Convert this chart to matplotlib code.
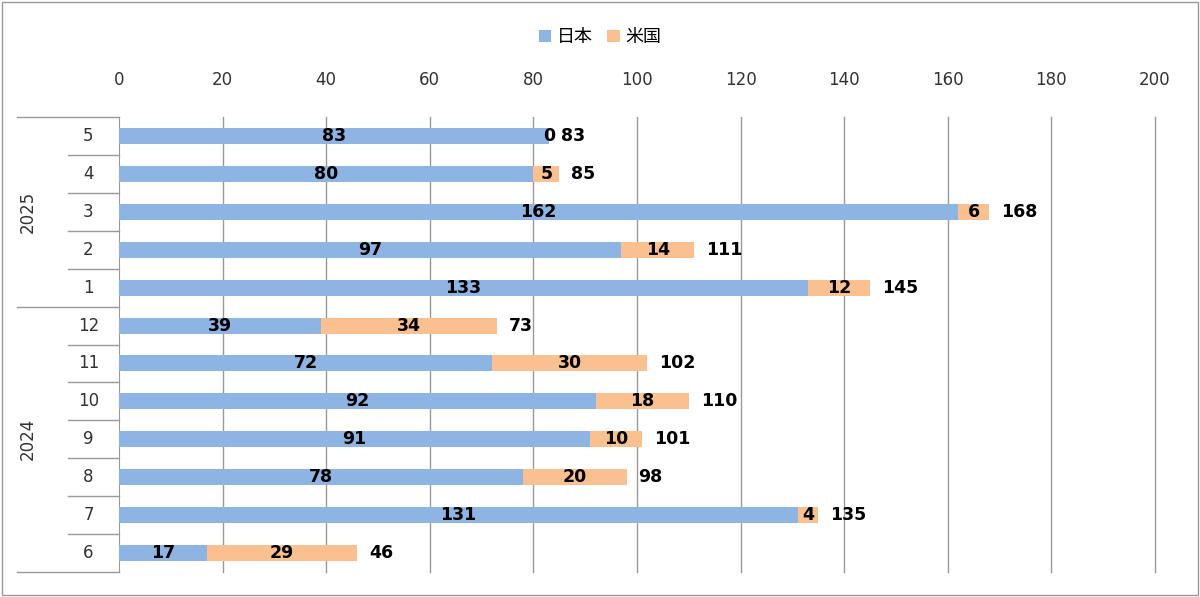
import matplotlib
matplotlib.use("Agg")
import matplotlib.pyplot as plt
from matplotlib.lines import Line2D

months = ["5", "4", "3", "2", "1", "12", "11", "10", "9", "8", "7", "6"]
years = ["2025", "2024"]
year_counts = [5, 7]
japan = [83, 80, 162, 97, 133, 39, 72, 92, 91, 78, 131, 17]
usa = [0, 5, 6, 14, 12, 34, 30, 18, 10, 20, 4, 29]
series_names = ["日本", "米国"]
xticks = list(range(0, 201, 20))

W, H = 1200, 597
fig = plt.figure(figsize=(12, 5.97), dpi=100)
fx = lambda px: px / W
fy = lambda py: 1 - py / H
ax = fig.add_axes([fx(119), fy(572), fx(1155) - fx(119), fy(117) - fy(572)])

blue, orange = "#8EB4E3", "#FAC090"
n = len(months)
ys = list(range(n))
ax.barh(ys, japan, height=0.42, color=blue, label=series_names[0], zorder=3)
ax.barh(ys, usa, left=japan, height=0.42, color=orange, label=series_names[1], zorder=3)
fnt = dict(fontsize=12.5, fontweight="bold", va="center", color="black", zorder=4)
for y, j, u in zip(ys, japan, usa):
    ax.text(j / 2, y, str(j), ha="center", **fnt)
    ax.text(j + u / 2, y, str(u), ha="center", **fnt)
    ax.text(j + u + 2.3, y, str(j + u), ha="left", **fnt)

ax.set_xlim(0, 200)
ax.set_ylim(n - 0.5, -0.5)
ax.set_xticks(xticks)
ax.xaxis.tick_top()
ax.tick_params(axis="x", length=0, pad=20, labelsize=12, colors="#333333")
ax.set_yticks([])
for t in xticks[1:]:
    ax.axvline(t, color="#999999", linewidth=1, zorder=0, clip_on=False)
for s in ["top", "right", "bottom"]:
    ax.spines[s].set_visible(False)
ax.spines["left"].set_color("#999999")

# category labels and separators
for i, m in enumerate(months):
    ax.text(-5.9, i, m, ha="center", va="center", fontsize=12, color="#333333")
tr = ax.get_yaxis_transform()
bounds = [-0.5]
acc = -0.5
for c in year_counts:
    acc += c
    bounds.append(acc)
for i in range(n + 1):
    y = i - 0.5
    x0 = -0.098 if y in bounds else -0.049
    ax.add_line(Line2D([x0, 0], [y, y], transform=tr, color="#999999", lw=1, clip_on=False))
start = -0.5
for yr, c in zip(years, year_counts):
    ax.text(-0.088, start + c / 2, yr, transform=tr, rotation=90, ha="center", va="center",
            fontsize=12, color="#333333")
    start += c

fig.legend(loc="upper center", bbox_to_anchor=(0.5, 0.98), ncol=2, frameon=False,
           prop={"family": "Noto Sans CJK JP", "size": 13}, handlelength=0.7, handleheight=0.7,
           columnspacing=0.8, handletextpad=0.3)
fig.add_artist(plt.Rectangle((0.002, 0.003), 0.996, 0.994, transform=fig.transFigure,
                             fill=False, edgecolor="#999999", lw=1))
fig.savefig("out.png", dpi=100)
